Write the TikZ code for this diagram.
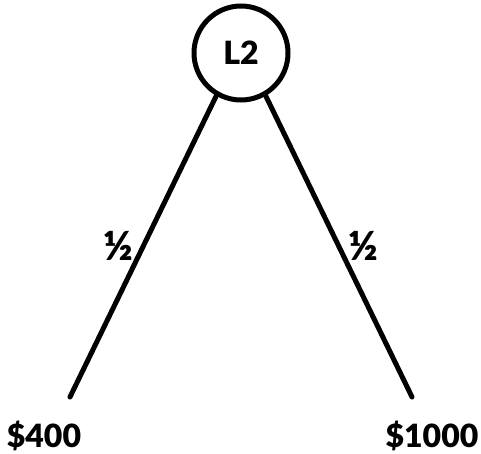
\documentclass[tikz,border=0pt]{standalone}
\usepackage{fontspec}
\setmainfont{Lato}[UprightFont=* Black]
\begin{document}
\begin{tikzpicture}[x=1pt,y=-1pt,
  lbl/.style={font=\fontsize{32}{35}\selectfont, inner sep=0pt},
  frac/.style={font=\fontsize{40}{42}\selectfont, inner sep=0pt},
  edge/.style={line width=5pt, line cap=round}]
\useasboundingbox (0,0) rectangle (481,453);
\node[circle, draw, line width=5pt, minimum size=94pt, inner sep=0pt, lbl] (L2) at (241,53) {L2};
\coordinate (a) at (70,397);
\coordinate (b) at (412,397);
\draw[edge] (L2.240) -- (a);
\draw[edge] (L2.300) -- (b);
\node[frac] (h1) at (118,246) {½};
\node[frac] (h2) at (363,246) {½};
\node[lbl, anchor=base] (v1) at (44,447) {\$400};
\node[lbl, anchor=base] (v2) at (432,447) {\$1000};
\end{tikzpicture}
\end{document}
